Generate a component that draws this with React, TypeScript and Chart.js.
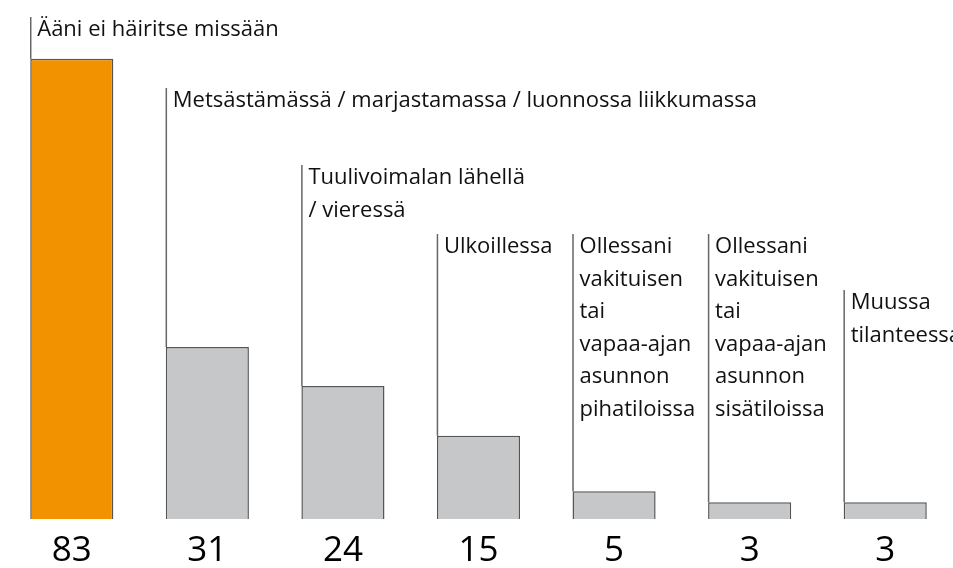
import React, { useEffect, useRef } from "react";
import { Chart, registerables } from "chart.js";

Chart.register(...registerables);

const categories: string[][] = [
  ["Ääni ei häiritse missään"],
  ["Metsästämässä / marjastamassa / luonnossa liikkumassa"],
  ["Tuulivoimalan lähellä", "/ vieressä"],
  ["Ulkoillessa"],
  ["Ollessani", "vakituisen", "tai", "vapaa-ajan", "asunnon", "pihatiloissa"],
  ["Ollessani", "vakituisen", "tai", "vapaa-ajan", "asunnon", "sisätiloissa"],
  ["Muussa", "tilanteessa"],
];
const values: number[] = [83, 31, 24, 15, 5, 3, 3];
// layout: top of each leader line in pixels
const labelTops: number[] = [17, 88, 165, 234, 234, 234, 290];

const ORANGE = "#F39200";
const GRAY = "#C6C7C8";
const BORDER = "#555555";
const FONT = "'Open Sans', sans-serif";

const annotate = {
  id: "annotate",
  afterDatasetsDraw(chart: any) {
    const ctx = chart.ctx;
    const meta = chart.getDatasetMeta(0);
    ctx.save();
    meta.data.forEach((bar: any, i: number) => {
      const left = bar.x - bar.width / 2;
      const top = labelTops[i];
      // leader line
      ctx.strokeStyle = "#666666";
      ctx.lineWidth = 1.5;
      ctx.beginPath();
      ctx.moveTo(left + 0.5, top);
      ctx.lineTo(left + 0.5, bar.y);
      ctx.stroke();
      // label text
      ctx.fillStyle = "#111";
      ctx.font = `22px ${FONT}`;
      ctx.textAlign = "left";
      ctx.textBaseline = "alphabetic";
      categories[i].forEach((line, j) => {
        ctx.fillText(line, left + 7, top + 19 + j * 32.6);
      });
      // value
      ctx.font = `35px ${FONT}`;
      ctx.textAlign = "center";
      ctx.textBaseline = "alphabetic";
      ctx.fillStyle = "#000";
      ctx.fillText(String(values[i]), bar.x, 561);
    });
    ctx.restore();
  },
};

export default function App() {
  const ref = useRef<HTMLCanvasElement>(null);
  useEffect(() => {
    if (!ref.current) return;
    const chart = new Chart(ref.current, {
      type: "bar",
      data: {
        labels: categories.map((c) => c.join(" ")),
        datasets: [
          {
            data: values,
            backgroundColor: values.map((_, i) => (i === 0 ? ORANGE : GRAY)),
            borderColor: BORDER,
            borderWidth: 1.5,
            barPercentage: 0.613,
            categoryPercentage: 1,
          },
        ],
      },
      options: {
        animation: false,
        responsive: false,
        maintainAspectRatio: false,
        layout: { padding: { left: 4, right: 0, top: 20, bottom: 49 } },
        plugins: { legend: { display: false }, tooltip: { enabled: false } },
        scales: {
          x: { display: false, offset: true, grid: { display: false } },
          y: { display: false, min: 0, max: 90, grid: { display: false } },
        },
      },
      plugins: [annotate],
    });
    return () => chart.destroy();
  }, []);
  return (
    <div style={{ position: "fixed", left: 0, top: 0, width: 953, height: 568, background: "#fff" }}>
      <canvas ref={ref} width={953} height={568} style={{ width: 953, height: 568, display: "block" }} />
    </div>
  );
}
